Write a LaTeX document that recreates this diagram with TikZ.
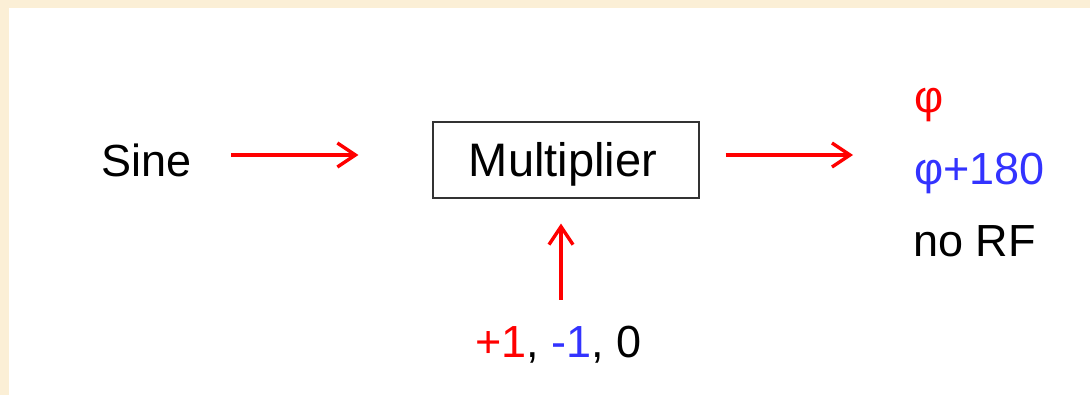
\documentclass[tikz,border=0pt]{standalone}
\usepackage{fontspec}
\setmainfont{Liberation Sans}
\usetikzlibrary{arrows.meta}
\definecolor{beige}{HTML}{FBEFD6}
\definecolor{myred}{HTML}{FF0000}
\definecolor{myblue}{HTML}{3333FF}
\definecolor{boxline}{HTML}{333333}
\tikzset{
  lbl/.style={inner sep=0pt, font=\fontsize{45}{54}\selectfont},
  arr/.style={draw=myred, line width=3.4pt, -{Straight Barb[length=18pt,width=24pt]}},
  multbox/.style={draw=boxline, line width=1.2pt, minimum width=266pt, minimum height=76pt,
    inner sep=0pt, text height=38pt, text depth=4pt, font=\fontsize{47}{56}\selectfont}
}
\begin{document}
\begin{tikzpicture}[x=1pt,y=-1pt]
\fill[beige] (0,0) rectangle (1090,395);
\fill[white] (9,8) rectangle (1090,395);
\useasboundingbox (0,0) rectangle (1090,395);

\node[lbl, anchor=base west] (sine) at (101,177) {Sine};
\node[multbox] (mult) at (566,160) {\hspace*{-6pt}Multiplier};
\node[lbl, anchor=base west, text=myred] (phi) at (914,113) {φ};
\node[lbl, anchor=base west, text=myblue] (phi180) at (914,185) {φ+180};
\node[lbl, anchor=base west] (norf) at (913,257) {no RF};
\node[lbl, anchor=base] (ctrl) at (558.5,357) {\textcolor{myred}{+1}, \textcolor{myblue}{-1}, 0};

\coordinate (a1s) at ([xshift=40pt]sine.east |- 0,155);
\coordinate (a1e) at ([xshift=-74pt]mult.west |- 0,155);
\draw[arr] (a1s) -- (a1e);

\coordinate (a2s) at ([xshift=26pt]mult.east |- 0,155);
\coordinate (a2e) at ([xshift=-61pt]phi180.west |- 0,155);
\draw[arr] (a2s) -- (a2e);

\coordinate (a3s) at ([xshift=-5pt]mult.south |- 0,300);
\coordinate (a3e) at ([xshift=-5pt,yshift=-25pt]mult.south);
\draw[arr] (a3s) -- (a3e);
\end{tikzpicture}
\end{document}
